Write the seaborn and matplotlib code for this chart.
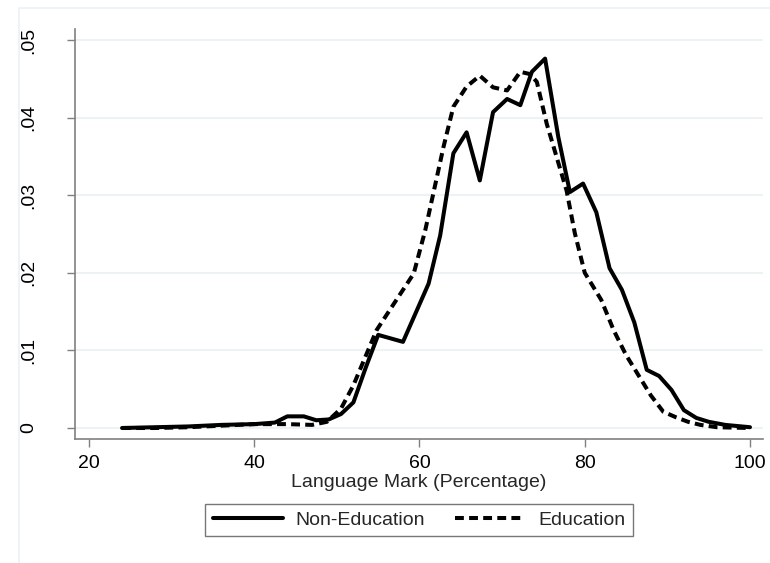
import matplotlib
matplotlib.use("Agg")
import numpy as np
import pandas as pd
import seaborn as sns
from matplotlib import pyplot as plt
from matplotlib.patches import Rectangle

# Kernel density estimates
non_edu_x = [24, 28, 32, 36, 40, 42.5, 44, 46, 47.5, 49, 50.5, 52, 53.5, 55, 58,
             61.1, 62.5, 64.1, 65.7, 67.3, 68.9, 70.6, 72.2, 73.6, 75.2, 76.8,
             78.2, 79.8, 81.4, 83, 84.5, 86, 87.5, 89, 90.5, 92, 93.5, 95, 97, 100]
non_edu_y = [0, 0.0001, 0.0002, 0.0004, 0.0005, 0.0007, 0.0015, 0.0015, 0.0010,
             0.0011, 0.0018, 0.0033, 0.0078, 0.0120, 0.0111, 0.0186, 0.0248,
             0.0354, 0.0381, 0.0319, 0.0407, 0.0424, 0.0416, 0.0459, 0.0476,
             0.0375, 0.0304, 0.0315, 0.0278, 0.0206, 0.0178, 0.0136, 0.0075,
             0.0067, 0.0049, 0.0023, 0.0013, 0.0008, 0.0004, 0.0001]

edu_x = [24, 28, 32, 36, 40, 44, 47, 48.8, 50.5, 52, 54.8, 57.2, 59.3, 60.7,
         62.9, 64.1, 65.7, 67.3, 68.9, 70.6, 72.2, 73.4, 74.2, 75.4, 76.6, 77.8,
         78.8, 80, 82, 83.5, 85, 86.5, 88, 89.5, 91, 92.5, 94, 96, 100]
edu_y = [0, 0, 0.0001, 0.0003, 0.0005, 0.0005, 0.0004, 0.0008, 0.0025, 0.0055,
         0.0126, 0.0165, 0.0199, 0.0255, 0.0362, 0.0414, 0.0440, 0.0454, 0.0439,
         0.0435, 0.0459, 0.0456, 0.0446, 0.0392, 0.0349, 0.0306, 0.0251, 0.0200,
         0.0165, 0.0126, 0.0094, 0.0068, 0.0042, 0.0021, 0.0014, 0.0008, 0.0004,
         0.0001, 0]

x_ticks = [20, 40, 60, 80, 100]
y_ticks = [0, 0.01, 0.02, 0.03, 0.04, 0.05]
y_tick_labels = ["0", ".01", ".02", ".03", ".04", ".05"]

sns.set_style("white")
plt.rcParams['font.family'] = ['Liberation Sans', 'DejaVu Sans']

W, H = 770, 563
fig = plt.figure(figsize=(W / 100, H / 100), dpi=100)
ax = fig.add_axes([75 / W, 1 - 439 / H, (763 - 75) / W, (439 - 29) / H])

grid_col = '#eaf2f3'
axis_col = '#808080'
fs = 14

# faint outer graph frame
fig.add_artist(Rectangle((19 / W, -0.1), 2, 1.1 - 8 / H, transform=fig.transFigure,
                         fill=False, edgecolor=grid_col, lw=1.2, zorder=0))

df_ne = pd.DataFrame({'mark': non_edu_x, 'density': non_edu_y})
df_e = pd.DataFrame({'mark': edu_x, 'density': edu_y})

sns.lineplot(data=df_ne, x='mark', y='density', ax=ax, color='black', lw=2.9,
             label='Non-Education', sort=False)
sns.lineplot(data=df_e, x='mark', y='density', ax=ax, color='black', lw=2.9,
             linestyle=(0, (2.2, 1.3)), label='Education', sort=False)

ax.set_xlim(20 - 14 / 8.2625, 100 + 13 / 8.2625)
ax.set_ylim(-11 / 7760, 0.05 + 11 / 7760)
ax.set_xticks(x_ticks)
ax.set_yticks(y_ticks)
ax.set_yticklabels(y_tick_labels)

for y in y_ticks:
    ax.axhline(y, color=grid_col, lw=1.3, zorder=0)

for side in ['top', 'right']:
    ax.spines[side].set_visible(False)
for side in ['left', 'bottom']:
    ax.spines[side].set_color(axis_col)
    ax.spines[side].set_linewidth(1.2)

ax.tick_params(axis='both', direction='out', length=5.5, width=1, color=axis_col,
               labelsize=fs, labelcolor='black', left=True, bottom=True)
ax.tick_params(axis='x', pad=6)
ax.tick_params(axis='y', pad=22)
for lab in ax.get_yticklabels():
    lab.set_rotation(90)
    lab.set_va('center')

ax.set_xlabel('Language Mark (Percentage)', fontsize=fs, labelpad=1.5)
ax.set_ylabel('')

handles, labels = ax.get_legend_handles_labels()
ax.get_legend().remove()
leg = fig.legend(handles, labels, loc='center', bbox_to_anchor=(419 / W, 1 - 520 / H),
                 ncol=2, fontsize=fs, frameon=True, fancybox=False, edgecolor='#555555',
                 handlelength=3.6, handletextpad=0.67, columnspacing=1.55,
                 borderpad=0.38, borderaxespad=0)
leg.get_frame().set_linewidth(1)

fig.savefig('out.png', dpi=100)
